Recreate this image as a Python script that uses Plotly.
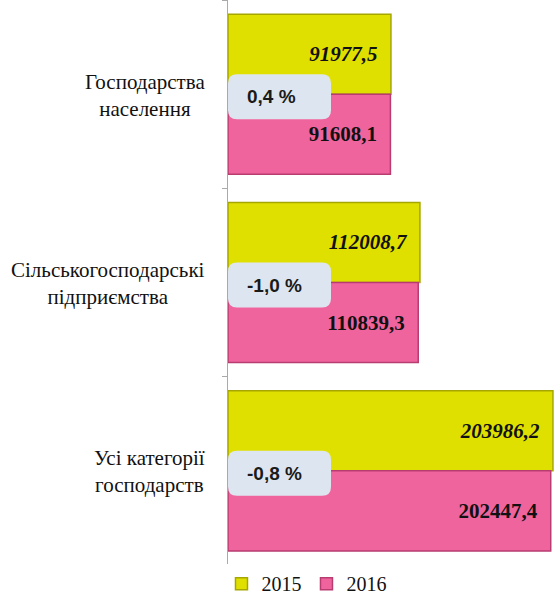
import plotly.graph_objects as go

categories = ["Господарства<br>населення", "Сільськогосподарські<br>підприємства", "Усі категорії<br>господарств"]
values_2015 = [91977.5, 112008.7, 203986.2]
values_2016 = [91608.1, 110839.3, 202447.4]
changes = ["0,4 %", "-1,0 %", "-0,8 %"]
series_names = ["2015", "2016"]

W, H = 555, 598
ML, MR, MT, MB = 228, 0, 0, 33
PW, PH = W - ML - MR, H - MT - MB
XMIN, XMAX = -20700, 205400   # value axis does not start at zero in the reference

def fmt(v):
    return f"{v:.1f}".replace(".", ",") + "\u2002"

fig = go.Figure()
fig.add_trace(go.Bar(
    y=categories, x=[v - XMIN for v in values_2015], base=XMIN, orientation="h", name=series_names[0],
    marker=dict(color="#e0e000", line=dict(color="#a6a600", width=1.5)),
    text=[fmt(v) for v in values_2015], textposition="inside", insidetextanchor="end",
    textfont=dict(family="Liberation Serif, Times New Roman, serif", size=21, color="#111", weight="bold", style="italic"),
))
fig.add_trace(go.Bar(
    y=categories, x=[v - XMIN for v in values_2016], base=XMIN, orientation="h", name=series_names[1],
    marker=dict(color="#f0649e", line=dict(color="#b83c70", width=1.5)),
    text=[fmt(v) for v in values_2016], textposition="inside", insidetextanchor="end",
    textfont=dict(family="Liberation Serif, Times New Roman, serif", size=21, color="#111", weight="bold"),
))

shapes = []
annotations = []
n = len(categories)
bw, bh, r = 103 / PW, 45 / PH, 9
rx, ry = r / PW, r / PH
for i, (cat, ch) in enumerate(zip(categories, changes)):
    yc = 1 - (i + 0.5) / n - 2.5 / PH
    x0, x1 = 0.0, bw
    y0, y1 = yc - bh / 2, yc + bh / 2
    path = (f"M {x0+rx},{y0} L {x1-rx},{y0} Q {x1},{y0} {x1},{y0+ry} "
            f"L {x1},{y1-ry} Q {x1},{y1} {x1-rx},{y1} L {x0+rx},{y1} "
            f"Q {x0},{y1} {x0},{y1-ry} L {x0},{y0+ry} Q {x0},{y0} {x0+rx},{y0} Z")
    shapes.append(dict(type="path", xref="paper", yref="paper", path=path,
                       fillcolor="#dde6f0", line=dict(width=0), layer="above"))
    annotations.append(dict(xref="paper", yref="paper", x=17 / PW, y=yc, xanchor="left", yanchor="middle",
                            text=ch, showarrow=False,
                            font=dict(family="Liberation Sans, Arial", size=19, color="#1a1a1a", weight="bold")))
    annotations.append(dict(xref="paper", yref="paper", x=0, xshift=-21, y=1 - (i + 0.5) / n, yshift=-1,
                            xanchor="right", yanchor="middle", align="center", text=cat, showarrow=False,
                            font=dict(family="Liberation Serif, Times New Roman, serif", size=21, color="#111")))

fig.update_layout(
    width=W, height=H, margin=dict(l=ML, r=MR, t=MT, b=MB, autoexpand=False),
    paper_bgcolor="white", plot_bgcolor="white",
    barmode="group", bargap=0.15, bargroupgap=0,
    xaxis=dict(range=[XMIN, XMAX], visible=False, fixedrange=True),
    yaxis=dict(autorange="reversed", showticklabels=False, showline=True, linecolor="#aaa", linewidth=1,
               ticks="outside", tickson="boundaries", ticklen=5, tickcolor="#aaa", showgrid=False),
    legend=dict(orientation="h", x=0.24, xanchor="center", yref="container", y=0.024, yanchor="middle",
                font=dict(family="Liberation Serif, Times New Roman, serif", size=20, color="#111"),
                itemwidth=30, traceorder="normal"),
    shapes=shapes, annotations=annotations, showlegend=True,
)

fig.write_html("out.html", config={"displayModeBar": False},
               post_script="document.body.style.margin='0px';document.body.style.overflow='hidden';")
